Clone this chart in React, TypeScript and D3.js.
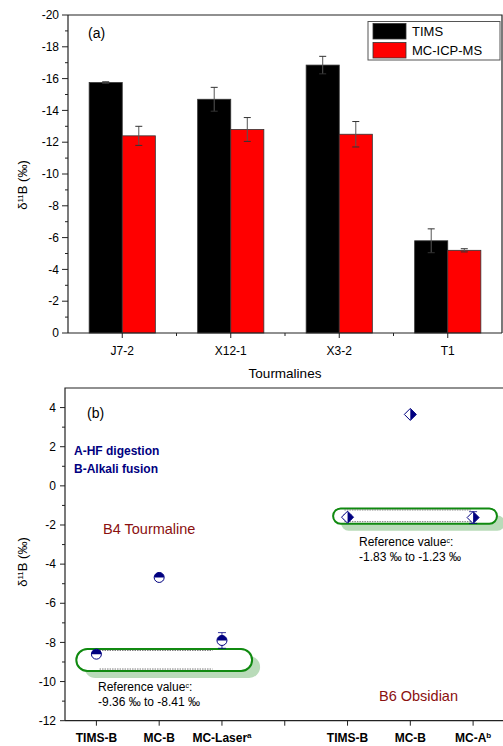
import React, { useEffect, useRef } from "react";
import * as d3 from "d3";

// panel (a)
const tourmalines = ["J7-2", "X12-1", "X3-2", "T1"];
const seriesNames = ["TIMS", "MC-ICP-MS"];
const timsValues = [-15.75, -14.7, -16.85, -5.8];
const timsErrors = [0.05, 0.75, 0.55, 0.75];
const mcValues = [-12.4, -12.8, -12.5, -5.2];
const mcErrors = [0.6, 0.75, 0.8, 0.1];
const topTicks = [-20, -18, -16, -14, -12, -10, -8, -6, -4, -2, 0];

// panel (b)
const methodLabels = [
  { text: "TIMS-B", sup: "" },
  { text: "MC-B", sup: "" },
  { text: "MC-Laser", sup: "a" },
  { text: "", sup: "" },
  { text: "TIMS-B", sup: "" },
  { text: "MC-B", sup: "" },
  { text: "MC-A", sup: "b" },
];
const b4Pos = [1, 2, 3];
const b4Values = [-8.6, -4.68, -7.9];
const b4Errors = [0.12, 0.15, 0.4];
const b6Pos = [5, 6, 7];
const b6Values = [-1.6, 3.65, -1.62];
const b6Errors = [0.12, 0.1, 0.3];
const bottomTicks = [-12, -10, -8, -6, -4, -2, 0, 2, 4];
// reference ranges: [low, high], box x extent, dotted x extent
const b4Ref = { lo: -9.36, hi: -8.41, box: [0.68, 3.48], dots: [1.05, 2.85] };
const b6Ref = { lo: -1.83, hi: -1.23, box: [4.77, 7.38], dots: [4.95, 6.98] };

const FONT = "'Liberation Sans', Arial, sans-serif";
const NAVY = "#000080";
const DARKRED = "#8b1010";

function App() {
  const svgRef = useRef<SVGSVGElement>(null);

  useEffect(() => {
    const svg = d3.select(svgRef.current);
    svg.selectAll("*").remove();
    svg.style("font-family", FONT);

    // ---------- panel (a) ----------
    const a = { left: 68, right: 502, top: 15, bottom: 333 };
    const x0 = d3.scaleBand().domain(tourmalines).range([a.left, a.right]).padding(0);
    const y0 = d3.scaleLinear().domain([0, -20]).range([a.bottom, a.top]);
    const barW = x0.bandwidth() * 0.305;

    const ga = svg.append("g");

    // frame
    ga.append("path")
      .attr("d", `M${a.left},${a.top}H${a.right}V${a.bottom}`)
      .attr("fill", "none").attr("stroke", "#222").attr("stroke-width", 1.2);

    const series = [
      { vals: timsValues, errs: timsErrors, fill: "#000000", off: -1 },
      { vals: mcValues, errs: mcErrors, fill: "#ff0000", off: 0 },
    ];
    series.forEach(s => {
      tourmalines.forEach((t, i) => {
        const cx = x0(t)! + x0.bandwidth() / 2;
        const bx = cx + s.off * barW;
        ga.append("rect")
          .attr("x", bx).attr("y", y0(s.vals[i]))
          .attr("width", barW).attr("height", y0(0) - y0(s.vals[i]))
          .attr("fill", s.fill).attr("stroke", "#333").attr("stroke-width", 0.8);
        const ex = bx + barW / 2;
        const yt = y0(s.vals[i] - s.errs[i]);
        const yb = y0(s.vals[i] + s.errs[i]);
        ga.append("line").attr("x1", ex).attr("x2", ex).attr("y1", yt).attr("y2", yb)
          .attr("stroke", "#555").attr("stroke-width", 1);
        [yt, yb].forEach(yy => {
          ga.append("line").attr("x1", ex - 3.5).attr("x2", ex + 3.5).attr("y1", yy).attr("y2", yy)
            .attr("stroke", "#333").attr("stroke-width", 1);
        });
      });
    });

    // y axis
    ga.append("line").attr("x1", a.left).attr("x2", a.left).attr("y1", a.top).attr("y2", a.bottom)
      .attr("stroke", "#222").attr("stroke-width", 1.2);
    d3.range(-20, 1, 1).forEach(v => {
      const major = v % 2 === 0;
      ga.append("line").attr("x1", a.left - (major ? 6 : 3)).attr("x2", a.left)
        .attr("y1", y0(v)).attr("y2", y0(v)).attr("stroke", "#222");
    });
    topTicks.forEach(v => {
      ga.append("text").attr("x", a.left - 9).attr("y", y0(v)).attr("dy", "0.35em")
        .attr("text-anchor", "end").attr("font-size", 12).text(String(v));
    });

    // x axis
    ga.append("line").attr("x1", a.left).attr("x2", a.right).attr("y1", a.bottom).attr("y2", a.bottom)
      .attr("stroke", "#222").attr("stroke-width", 1.2);
    tourmalines.forEach((t, i) => {
      const cx = x0(t)! + x0.bandwidth() / 2;
      ga.append("line").attr("x1", cx).attr("x2", cx).attr("y1", a.bottom).attr("y2", a.bottom + 5)
        .attr("stroke", "#222");
      ga.append("text").attr("x", cx).attr("y", a.bottom + 22).attr("text-anchor", "middle")
        .attr("font-size", 12).text(t);
      if (i > 0) {
        const bx = x0(t)!;
        ga.append("line").attr("x1", bx).attr("x2", bx).attr("y1", a.bottom).attr("y2", a.bottom + 3)
          .attr("stroke", "#222");
      }
    });
    ga.append("text").attr("x", 285).attr("y", 378).attr("text-anchor", "middle")
      .attr("font-size", 13.5).text("Tourmalines");

    // y label
    const yl = ga.append("text").attr("transform", `translate(27,${185}) rotate(-90)`)
      .attr("text-anchor", "middle").attr("font-size", 13);
    yl.append("tspan").text("δ");
    yl.append("tspan").attr("baseline-shift", "super").attr("font-size", 8).text("11");
    yl.append("tspan").text("B (‰)");

    ga.append("text").attr("x", 88).attr("y", 38).attr("font-size", 14).text("(a)");

    // legend
    const lg = ga.append("g");
    lg.append("rect").attr("x", 368).attr("y", 21.5).attr("width", 132).attr("height", 38.5)
      .attr("fill", "white").attr("stroke", "#555").attr("stroke-width", 1);
    seriesNames.forEach((n, i) => {
      lg.append("rect").attr("x", 373).attr("y", 23.5 + i * 19).attr("width", 33).attr("height", 15.5)
        .attr("fill", i === 0 ? "#000" : "#ff0000").attr("stroke", "#333").attr("stroke-width", 0.8);
      lg.append("text").attr("x", 412).attr("y", 31.5 + i * 19).attr("dy", "0.35em")
        .attr("font-size", 13).text(n);
    });

    // ---------- panel (b) ----------
    const b = { left: 65, right: 504.5, top: 388, bottom: 720.7 };
    const x1 = d3.scaleLinear().domain([0.5, 7.5]).range([b.left, b.right]);
    const y1 = d3.scaleLinear().domain([-12, 5]).range([b.bottom, b.top]);
    const gb = svg.append("g");

    gb.append("path")
      .attr("d", `M${b.left},${b.bottom}V${b.top}H${b.right}`)
      .attr("fill", "none").attr("stroke", "#222").attr("stroke-width", 1.2);
    gb.append("line").attr("x1", b.left).attr("x2", b.right).attr("y1", b.bottom).attr("y2", b.bottom)
      .attr("stroke", "#222").attr("stroke-width", 1.2);

    d3.range(-12, 5, 1).forEach(v => {
      const major = v % 2 === 0;
      gb.append("line").attr("x1", b.left - (major ? 5 : 3)).attr("x2", b.left)
        .attr("y1", y1(v)).attr("y2", y1(v)).attr("stroke", "#222");
    });
    bottomTicks.forEach(v => {
      gb.append("text").attr("x", b.left - 9).attr("y", y1(v)).attr("dy", "0.35em")
        .attr("text-anchor", "end").attr("font-size", 12).text(String(v));
    });
    methodLabels.forEach((m, i) => {
      const px = x1(i + 1);
      gb.append("line").attr("x1", px).attr("x2", px).attr("y1", b.bottom).attr("y2", b.bottom + 5)
        .attr("stroke", "#222");
      if (m.text) {
        const t = gb.append("text").attr("x", px).attr("y", 742).attr("text-anchor", "middle")
          .attr("font-size", 12).attr("font-weight", "bold");
        t.append("tspan").text(m.text);
        if (m.sup) t.append("tspan").attr("baseline-shift", "super").attr("font-size", 8).text(m.sup);
      }
    });

    const yl2 = gb.append("text").attr("transform", `translate(27,${562}) rotate(-90)`)
      .attr("text-anchor", "middle").attr("font-size", 13);
    yl2.append("tspan").text("δ");
    yl2.append("tspan").attr("baseline-shift", "super").attr("font-size", 8).text("11");
    yl2.append("tspan").text("B (‰)");

    gb.append("text").attr("x", 87).attr("y", 418).attr("font-size", 14).text("(b)");
    gb.append("text").attr("x", 74).attr("y", 455).attr("font-size", 12).attr("font-weight", "bold")
      .attr("fill", NAVY).text("A-HF digestion");
    gb.append("text").attr("x", 74).attr("y", 473).attr("font-size", 12).attr("font-weight", "bold")
      .attr("fill", NAVY).text("B-Alkali fusion");
    gb.append("text").attr("x", 103).attr("y", 534).attr("font-size", 14.5)
      .attr("fill", DARKRED).text("B4 Tourmaline");
    gb.append("text").attr("x", 379).attr("y", 701).attr("font-size", 14.5)
      .attr("fill", DARKRED).text("B6 Obsidian");

    // reference boxes
    const refBox = (r: typeof b4Ref) => {
      const xa = x1(r.box[0]);
      const xb = x1(r.box[1]);
      const ya = y1(r.hi) - 1.5;
      const yb = y1(r.lo) + 2;
      const h = yb - ya;
      gb.append("rect").attr("x", xa + 8).attr("y", ya + 7).attr("width", xb - xa).attr("height", h)
        .attr("rx", h / 2).attr("fill", "#b9dbb9");
      gb.append("rect").attr("x", xa).attr("y", ya).attr("width", xb - xa).attr("height", h)
        .attr("rx", h / 2).attr("fill", "white").attr("stroke", "#108a10").attr("stroke-width", 2);
      [r.hi, r.lo].forEach(v => {
        gb.append("line").attr("x1", x1(r.dots[0])).attr("x2", x1(r.dots[1]))
          .attr("y1", y1(v)).attr("y2", y1(v))
          .attr("stroke", "#777").attr("stroke-width", 1).attr("stroke-dasharray", "1.5,1");
      });
    };
    refBox(b4Ref);
    refBox(b6Ref);

    const refText = (x: number, y: number, range: string) => {
      const t = gb.append("text").attr("x", x).attr("y", y).attr("font-size", 12);
      t.append("tspan").text("Reference value");
      t.append("tspan").attr("baseline-shift", "super").attr("font-size", 7).text("c");
      t.append("tspan").attr("baseline-shift", "0").text(":");
      gb.append("text").attr("x", x).attr("y", y + 15).attr("font-size", 12).text(range);
    };
    refText(98, 691, "-9.36 ‰ to -8.41 ‰");
    refText(359, 546, "-1.83 ‰ to -1.23 ‰");

    const errBar = (px: number, v: number, e: number) => {
      const yt = y1(v + e);
      const yb = y1(v - e);
      gb.append("line").attr("x1", px).attr("x2", px).attr("y1", yt).attr("y2", yb)
        .attr("stroke", NAVY).attr("stroke-width", 0.8);
      [yt, yb].forEach(yy => {
        gb.append("line").attr("x1", px - 4).attr("x2", px + 4).attr("y1", yy).attr("y2", yy)
          .attr("stroke", NAVY).attr("stroke-width", 0.8);
      });
    };

    // B4 tourmaline: half-filled circles
    b4Pos.forEach((p, i) => {
      const cx = x1(p);
      const cy = y1(b4Values[i]);
      const r = 5;
      errBar(cx, b4Values[i], b4Errors[i]);
      gb.append("circle").attr("cx", cx).attr("cy", cy).attr("r", r).attr("fill", "white")
        .attr("stroke", NAVY).attr("stroke-width", 1);
      gb.append("path")
        .attr("d", `M${cx - r},${cy} A${r},${r} 0 0 1 ${cx + r},${cy} Z`)
        .attr("fill", NAVY);
    });

    // B6 obsidian: half-filled diamonds
    b6Pos.forEach((p, i) => {
      const cx = x1(p);
      const cy = y1(b6Values[i]);
      const s = 6;
      errBar(cx, b6Values[i], b6Errors[i]);
      gb.append("path")
        .attr("d", `M${cx},${cy - s}L${cx + s},${cy}L${cx},${cy + s}L${cx - s},${cy}Z`)
        .attr("fill", "white").attr("stroke", NAVY).attr("stroke-width", 1);
      gb.append("path")
        .attr("d", `M${cx},${cy - s}L${cx + s},${cy}L${cx},${cy + s}Z`)
        .attr("fill", NAVY);
    });
  }, []);

  return (
    <svg ref={svgRef} width={503} height={746}
      style={{ position: "absolute", left: 0, top: 0, background: "white" }} />
  );
}

export default App;
